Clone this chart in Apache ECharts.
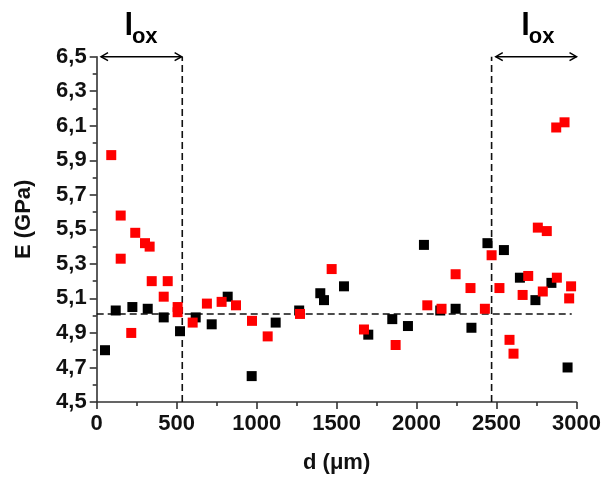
<!DOCTYPE html>
<html>
<head>
<meta charset="utf-8">
<script src="https://cdn.jsdelivr.net/npm/echarts@6/dist/echarts.min.js"></script>
<style>
html,body{margin:0;padding:0;background:#fff;}
#chart{width:604px;height:479px;}
</style>
</head>
<body>
<div id="chart"></div>
<script>
// ---- data ----
const blackD = [52,119,223,319,419,521,619,719,819,969,1119,1266,1398,1421,1546,1698,1848,1946,2046,2148,2244,2343,2443,2546,2646,2743,2843,2944];
const blackE = [4.80,5.03,5.05,5.04,4.99,4.91,4.99,4.95,5.11,4.65,4.96,5.03,5.13,5.09,5.17,4.89,4.98,4.94,5.41,5.03,5.04,4.93,5.42,5.38,5.22,5.09,5.19,4.70];
const redD = [91,150,150,216,241,302,331,344,419,444,506,506,600,689,781,871,971,1069,1271,1469,1671,1869,2067,2156,2244,2337,2427,2469,2518,2581,2606,2663,2698,2758,2789,2814,2873,2877,2925,2954,2966];
const redE = [5.93,5.58,5.33,4.90,5.48,5.42,5.40,5.20,5.11,5.20,5.05,5.02,4.96,5.07,5.08,5.06,4.97,4.88,5.01,5.27,4.92,4.83,5.06,5.04,5.24,5.16,5.04,5.35,5.16,4.86,4.78,5.12,5.23,5.51,5.14,5.49,6.09,5.22,6.12,5.10,5.17];
const meanE = 5.01;
const meanSpan = [0, 2970];
const oxBounds = [535, 2469];
const arrowSpans = [[27, 531, 270], [2495, 3000, 2752]]; // [from, to, label x]
const xTicks = [0, 500, 1000, 1500, 2000, 2500, 3000];
const yTickLabels = ['4,5','4,7','4,9','5,1','5,3','5,5','5,7','5,9','6,1','6,3','6,5'];
const yMin = 4.5, yMax = 6.5, yStep = 0.2;

const FONT = '"Liberation Sans", Arial, sans-serif';
const chart = echarts.init(document.getElementById('chart'));

const toPairs = (xs, ys) => xs.map((x, i) => [x, ys[i]]);

const axisCommon = {
  axisLine: {show: true, onZero: false, lineStyle: {color: '#333', width: 1.6}},
  axisTick: {show: true, inside: false, length: 7, lineStyle: {color: '#333', width: 1.6}},
  minorTick: {show: true, splitNumber: 2, length: 4, lineStyle: {color: '#333', width: 1.6}},
  splitLine: {show: false},
  minorSplitLine: {show: false}
};

const option = {
  animation: false,
  backgroundColor: '#fff',
  grid: {left: 96.7, right: 27.3, top: 56.7, bottom: 73.3, containLabel: false},
  xAxis: Object.assign({
    type: 'value', min: xTicks[0], max: xTicks[xTicks.length - 1], interval: 500,
    name: 'd (μm)', nameLocation: 'middle', nameGap: 50,
    nameTextStyle: {fontFamily: FONT, fontWeight: 'bold', fontSize: 22, color: '#111'},
    axisLabel: {margin: 11, fontFamily: FONT, fontWeight: 'bold', fontSize: 22, color: '#111',
      formatter: v => String(Math.round(v))}
  }, axisCommon),
  yAxis: Object.assign({
    type: 'value', min: yMin, max: yMax, interval: yStep,
    name: 'E (GPa)', nameLocation: 'middle', nameGap: 62, nameRotate: 90,
    nameTextStyle: {fontFamily: FONT, fontWeight: 'bold', fontSize: 22, color: '#111', padding: [0, 0, 0, 20]},
    axisLabel: {
      margin: 10, fontFamily: FONT, fontWeight: 'bold', fontSize: 22, color: '#111',
      formatter: v => {
        const i = Math.round((v - yMin) / yStep);
        return yTickLabels[i] !== undefined ? yTickLabels[i] : v.toFixed(1).replace('.', ',');
      }
    }
  }, axisCommon),
  series: [
    {
      type: 'line', data: [[meanSpan[0], meanE], [meanSpan[1], meanE]],
      symbol: 'none', silent: true, z: 1,
      lineStyle: {color: '#111', width: 1.6, type: [7, 4]}
    },
    {
      type: 'line', data: [[oxBounds[0], yMin], [oxBounds[0], yMax]],
      symbol: 'none', silent: true, z: 1, clip: false,
      lineStyle: {color: '#111', width: 1.6, type: [7, 4]}
    },
    {
      type: 'line', data: [[oxBounds[1], yMin], [oxBounds[1], yMax]],
      symbol: 'none', silent: true, z: 1, clip: false,
      lineStyle: {color: '#111', width: 1.6, type: [7, 4]}
    },
    {
      type: 'scatter', data: toPairs(blackD, blackE), symbol: 'rect', symbolSize: 10, z: 3,
      itemStyle: {color: '#000', opacity: 1}
    },
    {
      type: 'scatter', data: toPairs(redD, redE), symbol: 'rect', symbolSize: 10, z: 4,
      itemStyle: {color: '#ff0000', opacity: 1}
    },
    {
      type: 'custom', data: arrowSpans, clip: false, z: 5, silent: true,
      renderItem: function (params, api) {
        const p1 = api.coord([api.value(0), yMax]);
        const p2 = api.coord([api.value(1), yMax]);
        const pl = api.coord([api.value(2), yMax]);
        const y = p1[1];
        const st = {stroke: '#000', lineWidth: 1.5, fill: null};
        return {
          type: 'group',
          children: [
            {type: 'line', shape: {x1: p1[0], y1: y, x2: p2[0], y2: y}, style: st},
            {type: 'polyline', shape: {points: [[p1[0] + 7, y - 4], [p1[0], y], [p1[0] + 7, y + 4]]}, style: st},
            {type: 'polyline', shape: {points: [[p2[0] - 7, y - 4], [p2[0], y], [p2[0] - 7, y + 4]]}, style: st},
            {type: 'text', x: pl[0] - 15.5, y: y - 46,
              style: {text: 'l', font: 'bold 31px ' + FONT, fill: '#000', textAlign: 'left', textVerticalAlign: 'top'}},
            {type: 'text', x: pl[0] - 8, y: y - 31,
              style: {text: 'ox', font: 'bold 22px ' + FONT, fill: '#000', textAlign: 'left', textVerticalAlign: 'top'}}
          ]
        };
      }
    }
  ]
};
chart.setOption(option);
</script>
</body>
</html>
